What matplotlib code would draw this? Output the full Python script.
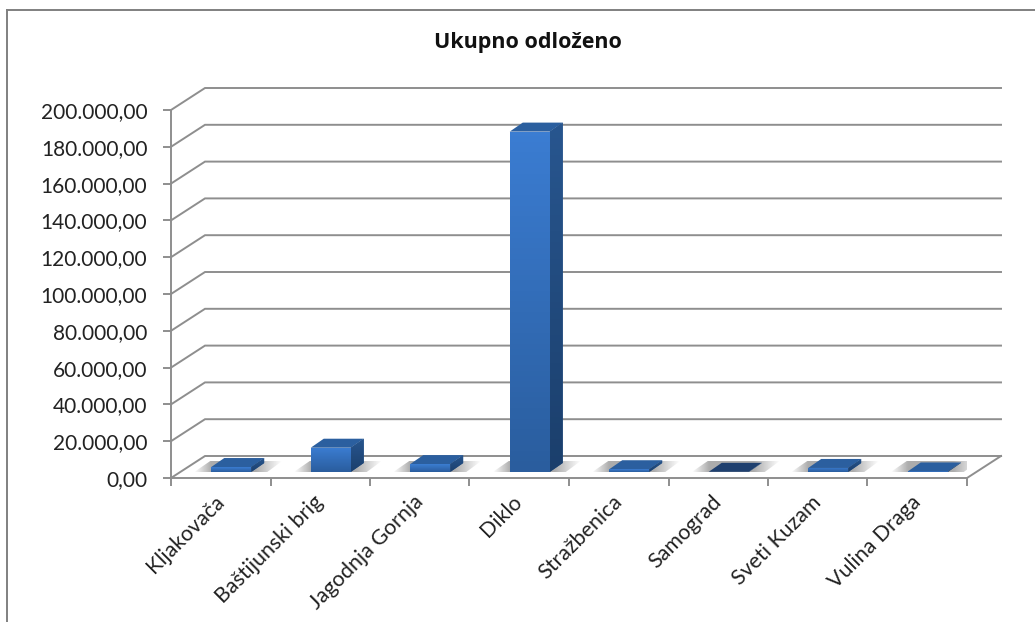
import numpy as np
import matplotlib
matplotlib.use('Agg')
import matplotlib.pyplot as plt
from matplotlib.patches import Polygon
from matplotlib.colors import LinearSegmentedColormap

# Podaci
kategorije = ['Kljakovača', 'Baštijunski brig', 'Jagodnja Gornja', 'Diklo',
              'Stražbenica', 'Samograd', 'Sveti Kuzam', 'Vulina Draga']
vrijednosti = [2700, 13200, 4300, 185000, 1500, 100, 2200, 300]
y_vrijednosti = [0, 20000, 40000, 60000, 80000, 100000, 120000, 140000, 160000, 180000, 200000]
y_oznake = ['0,00', '20.000,00', '40.000,00', '60.000,00', '80.000,00', '100.000,00',
            '120.000,00', '140.000,00', '160.000,00', '180.000,00', '200.000,00']

plt.rcParams['font.family'] = ['Lato', 'DejaVu Sans']

fig = plt.figure(figsize=(10.35, 6.22), dpi=100)
ax = fig.add_axes([171 / 1035, (622 - 478) / 622, 796 / 1035, 368 / 622])

# pikseli u jedinice osi
px = 8 / 796
py = 200000 / 368
dx = 34 * px   # dubina poda, x
dy = 22 * py   # dubina poda, y
siva = '#8e8e8e'

# okvir grafikona
fig.add_artist(plt.Line2D([7 / 1035, 7 / 1035], [0, 1 - 10 / 622], color='#808080', lw=1.4))
fig.add_artist(plt.Line2D([7 / 1035, 1], [1 - 10 / 622, 1 - 10 / 622], color='#808080', lw=1.4))

# mreža na stražnjem zidu
for v in y_vrijednosti:
    ax.plot([0, dx, 8 + dx], [v, v + dy, v + dy], color=siva, lw=1.4, clip_on=False, zorder=1,
            solid_joinstyle='miter')
ax.plot([8, 8 + dx], [0, dy], color=siva, lw=1.4, clip_on=False, zorder=1)

# gradijenti
cm_front = LinearSegmentedColormap.from_list('front', ['#2a5d9e', '#3b7dd2'])
cm_side = LinearSegmentedColormap.from_list('side', ['#1b3f6c', '#28568f'])
gradijent = np.linspace(1, 0, 64).reshape(-1, 1)

sirina = 40 * px
dno = 6 * py
dub_x = 13 * px
dub_y = 9 * py
boje_vrh = ['#2b5f9f', '#2b5f9f', '#2b5f9f', '#2b5f9f', '#2b5f9f', '#1f406f', '#2b5f9f', '#2b5f9f']

sredine = np.arange(len(vrijednosti)) + 0.5
x_lijevo = sredine + 10.5 * px - sirina / 2

for i, v in enumerate(vrijednosti):
    x0 = x_lijevo[i]
    x1 = x0 + sirina

    # sjena na podu
    profil_x = np.linspace(x0 - 17 * px, x1 + 31 * px, 200)
    alfa = np.interp(profil_x, [x0 - 17 * px, x0, x1 + 5 * px, x1 + 31 * px], [0, 0.5, 0.5, 0])
    slika = np.zeros((1, 200, 4))
    slika[..., :3] = 0.35
    slika[..., 3] = alfa
    sjena = ax.imshow(slika, extent=[profil_x[0], profil_x[-1], dno, dno + 11 * py],
                      aspect='auto', zorder=2, interpolation='bilinear')
    sjena.set_clip_path(Polygon([(x0 - 17 * px, dno), (x1 + 16 * px, dno),
                                 (x1 + 31 * px, dno + 11 * py), (x0 - 1 * px, dno + 11 * py)],
                                transform=ax.transData))

    # gornja i bočna strana
    vrh = dno + v
    ax.add_patch(Polygon([(x0, vrh), (x1, vrh), (x1 + dub_x, vrh + dub_y), (x0 + dub_x, vrh + dub_y)],
                         facecolor=boje_vrh[i], edgecolor='none', zorder=3, clip_on=False))
    bok = Polygon([(x1, dno), (x1 + dub_x, dno + dub_y), (x1 + dub_x, vrh + dub_y), (x1, vrh)],
                  facecolor='#28568f', edgecolor='none', zorder=3, clip_on=False)
    ax.add_patch(bok)
    sl_bok = ax.imshow(gradijent, extent=[x1, x1 + dub_x, dno, vrh + dub_y], cmap=cm_side,
                       aspect='auto', zorder=3.1, vmin=0, vmax=1)
    sl_bok.set_clip_path(bok)

    # prednja strana
    stupac = ax.bar(x0, v, width=sirina, bottom=dno, align='edge', color='#2f6ab5', zorder=4)[0]
    sl = ax.imshow(gradijent, extent=[x0, x1, dno, vrh], cmap=cm_front, aspect='auto',
                   zorder=4.1, vmin=0, vmax=1)
    sl.set_clip_path(stupac)

ax.set_xlim(0, 8)
ax.set_ylim(0, 200000)
ax.patch.set_visible(False)

for s in ['top', 'right']:
    ax.spines[s].set_visible(False)
for s in ['left', 'bottom']:
    ax.spines[s].set_color(siva)
    ax.spines[s].set_linewidth(1.4)

ax.set_yticks(y_vrijednosti)
ax.set_yticklabels(y_oznake, fontsize=15, color='#222222')
ax.set_xticks(np.arange(9))
ax.set_xticklabels([])
# oznake malo ulijevo od sredine kategorije
ax.set_xticks(sredine - 7 * px, minor=True)
ax.set_xticklabels(kategorije, minor=True, rotation=45, ha='right', va='top',
                   rotation_mode='anchor', fontsize=15.4, color='#222222')
ax.tick_params(axis='x', which='minor', length=0, pad=10)
ax.tick_params(axis='both', which='major', color=siva, width=1.4, length=6)
ax.tick_params(axis='y', pad=11)

fig.text(528 / 1035, 1 - 42.5 / 622, 'Ukupno odloženo', ha='center', va='center',
         fontsize=15.5, fontweight='bold', color='#111111', family='Open Sans')

fig.savefig('out.png', dpi=100)
